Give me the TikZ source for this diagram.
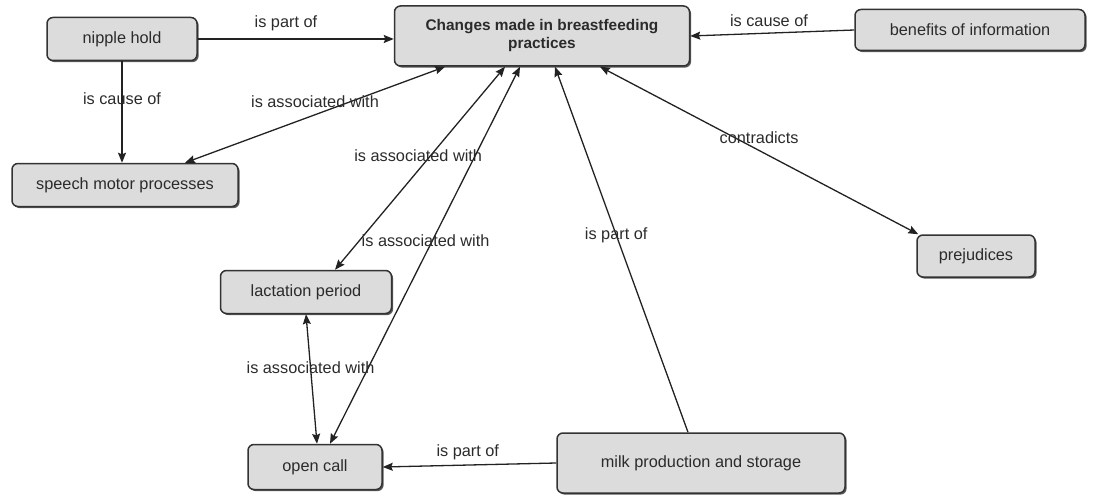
\documentclass[tikz,border=0pt]{standalone}
\usepackage{fontspec}
\setmainfont{Liberation Sans}
\usetikzlibrary{arrows.meta,shadows,calc}
\definecolor{boxfill}{HTML}{DCDCDC}
\definecolor{boxline}{HTML}{333333}
\definecolor{txt}{HTML}{2B2B2B}
\definecolor{edgecol}{HTML}{222222}
\tikzset{
  concept/.style={draw=boxline, line width=1.5pt, fill=boxfill, rounded corners=6pt,
    text=txt, font=\fontsize{16.3}{18}\selectfont, align=center, inner sep=2pt,
    drop shadow={shadow xshift=1.6pt, shadow yshift=-1.6pt, fill=black!65, opacity=1}},
  link/.style={draw=edgecol, line width=1.3pt},
  tip/.tip={Stealth[length=10pt,width=8pt,inset=1.5pt]},
  oneway/.style={link, -tip},
  twoway/.style={link, tip-tip},
  lbl/.style={text=txt, font=\fontsize{16.3}{18}\selectfont, inner sep=1pt}
}
\begin{document}
\begin{tikzpicture}[x=1pt,y=-1pt]
\useasboundingbox (0,0) rectangle (1093,495);
% nodes
\node[concept, minimum width=295pt, minimum height=60pt, font=\bfseries\fontsize{15.4}{18}\selectfont] (c) at (542,36) {Changes made in breastfeeding\\practices};
\node[concept, minimum width=150pt, minimum height=43pt] (nh) at (122,39) {nipple hold};
\node[concept, minimum width=230pt, minimum height=41pt] (bi) at (970,30) {benefits of information};
\node[concept, minimum width=226pt, minimum height=43pt] (sp) at (125,185) {speech motor processes};
\node[concept, minimum width=118pt, minimum height=42pt] (pr) at (976,256) {prejudices};
\node[concept, minimum width=171pt, minimum height=43pt] (lac) at (306,292) {lactation period};
\node[concept, minimum width=134pt, minimum height=45pt] (oc) at (315,467) {open call};
\node[concept, minimum width=288pt, minimum height=60pt] (mk) at (701,463) {milk production and storage};
% connectors
\draw[oneway] (nh.east) -- (nh.east -| c.west)
  node[lbl, above=6pt, pos=0.45] {is part of};
\draw[oneway] (bi.west) -- (c.east)
  node[lbl, above=5pt, pos=0.52] {is cause of};
\draw[oneway] (nh.south) -- (nh.south |- sp.north)
  node[lbl, pos=0.37] {is cause of};
\draw[twoway] ([xshift=-97pt]c.south) -- ([xshift=60pt]sp.north)
  node[lbl, pos=0.5, yshift=13pt] {is associated with};
\draw[twoway] ([xshift=-37pt]c.south) -- ([xshift=29pt]lac.north)
  node[lbl, pos=0.44, xshift=-12pt] {is associated with};
\draw[twoway] ([xshift=-22pt]c.south) -- ([xshift=15pt]oc.north)
  node[lbl, pos=0.46, xshift=-7pt] {is associated with};
\draw[oneway] ([xshift=-13pt]mk.north) -- ([xshift=13pt]c.south)
  node[lbl, pos=0.54] {is part of};
\draw[twoway] ([xshift=58pt]c.south) -- ([xshift=2pt]pr.north west)
  node[lbl, pos=0.5, yshift=13pt] {contradicts};
\draw[twoway] (lac.south) -- ([xshift=2pt]oc.north)
  node[lbl, pos=0.41] {is associated with};
\draw[oneway] (mk.west) -- (oc.east)
  node[lbl, above=4pt, pos=0.51] {is part of};
\end{tikzpicture}
\end{document}
